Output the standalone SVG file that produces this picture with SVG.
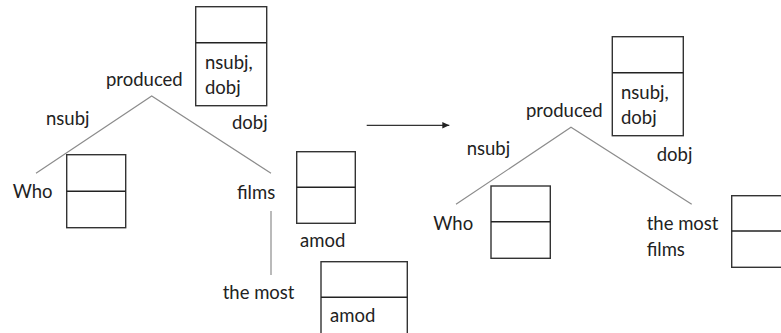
<svg xmlns="http://www.w3.org/2000/svg" width="781" height="333" viewBox="0 0 781 333">
<defs>
<style>
text{font-family:Lato,"Open Sans","Liberation Sans",sans-serif;font-size:18.5px;fill:#222}
.edge{stroke:#8c8c8c;stroke-width:1.2;fill:none}
.box{fill:#fff;stroke:#333;stroke-width:1.4}
.div{stroke:#222;stroke-width:1.4}
</style>
<marker id="ah" markerWidth="8" markerHeight="8" refX="7" refY="4" orient="auto" markerUnits="userSpaceOnUse">
<path d="M0,0.8 L7,4 L0,7.2 Z" fill="#222"/>
</marker>
</defs>
<rect width="781" height="333" fill="#fff"/>
<g id="connectors">
<path class="edge" d="M36,173.3 L151.7,96 L271,173.3"/>
<path class="edge" d="M271,211 L271,275"/>
<path class="edge" d="M456,204.3 L571,127.3 L691.7,204.3"/>
<line x1="366.7" y1="125.3" x2="449.3" y2="125.3" stroke="#333" stroke-width="1.2" marker-end="url(#ah)"/>
<text x="46" y="125">nsubj</text>
<text x="232" y="129">dobj</text>
<text x="300" y="246.7">amod</text>
<text x="466.7" y="155">nsubj</text>
<text x="656.7" y="160.7">dobj</text>
</g>
<g id="produced-left">
<text x="106" y="86">produced</text>
<rect class="box" x="195.7" y="6.7" width="71" height="99"/>
<line class="div" x1="195.7" y1="42.7" x2="266.7" y2="42.7"/>
<text x="205" y="69">nsubj,</text>
<text x="205" y="94">dobj</text>
</g>
<g id="who-left">
<text x="12.7" y="197.7">Who</text>
<rect class="box" x="66.7" y="154.7" width="59" height="73"/>
<line class="div" x1="66.7" y1="191.3" x2="125.7" y2="191.3"/>
</g>
<g id="films-left">
<text x="237" y="199.3">films</text>
<rect class="box" x="296.7" y="151.7" width="58.6" height="71.6"/>
<line class="div" x1="296.7" y1="187.3" x2="355.3" y2="187.3"/>
</g>
<g id="themost-left">
<text x="222.7" y="299">the most</text>
<rect class="box" x="321" y="261.7" width="86.3" height="80"/>
<line class="div" x1="321" y1="297.3" x2="407.3" y2="297.3"/>
<text x="330" y="321.7">amod</text>
</g>
<g id="produced-right">
<text x="526" y="116.7">produced</text>
<rect class="box" x="612.3" y="36.7" width="71" height="99"/>
<line class="div" x1="612.3" y1="72.7" x2="683.3" y2="72.7"/>
<text x="621" y="99">nsubj,</text>
<text x="621" y="124">dobj</text>
</g>
<g id="who-right">
<text x="433.3" y="230">Who</text>
<rect class="box" x="491" y="186" width="59.3" height="72.3"/>
<line class="div" x1="491" y1="221.7" x2="550.3" y2="221.7"/>
</g>
<g id="themostfilms-right">
<text x="646.7" y="230">the most</text>
<text x="646.7" y="256">films</text>
<rect class="box" x="731.7" y="195.7" width="60" height="71.6"/>
<line class="div" x1="731.7" y1="231" x2="781" y2="231"/>
</g>
</svg>
